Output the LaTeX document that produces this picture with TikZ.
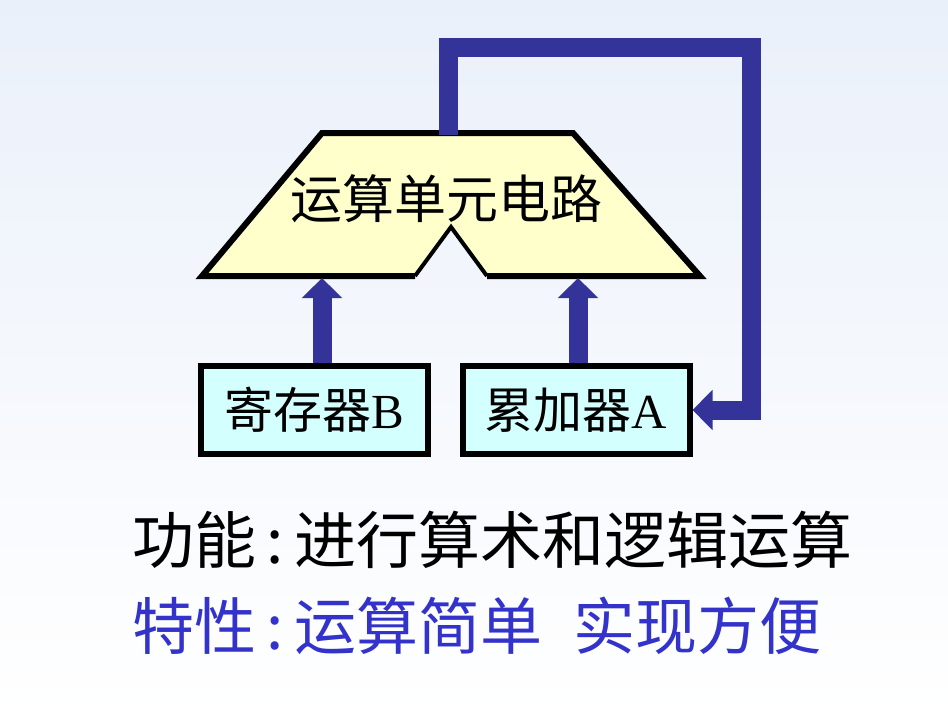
\documentclass[tikz,border=0pt]{standalone}
\usepackage{fontspec}
\setmainfont{Liberation Serif}
\newfontfamily\cjk{Noto Sans CJK SC}
\usetikzlibrary{arrows.meta}
\definecolor{loopblue}{RGB}{51,51,153}
\definecolor{trapfill}{RGB}{255,255,204}
\definecolor{boxfill}{RGB}{212,255,255}
\definecolor{textblue}{RGB}{51,51,204}
\definecolor{bgtop}{RGB}{234,240,250}
\begin{document}
\begin{tikzpicture}[x=1pt,y=-1pt,
  regbox/.style={draw=black, line width=6pt, fill=boxfill, minimum width=227pt,
    minimum height=88pt, inner sep=0pt, font=\cjk\fontsize{49}{56}\selectfont},
  bus/.style={draw=loopblue, line width=19pt, line join=miter,
    -{Triangle[width=39pt,length=20pt]}},
  trapline/.style={draw=black, line width=6pt, line join=miter},
  notchline/.style={draw=black, line width=4pt, line join=miter},
  bigtext/.style={anchor=west, inner sep=0pt, font=\cjk\fontsize{62}{72}\selectfont}
]
\useasboundingbox (0,0) rectangle (948,712);
\shade[top color=bgtop, bottom color=white] (0,0) rectangle (948,712);

% trapezoid (ALU)
\coordinate (tl) at (322,133);
\coordinate (tr) at (573,133);
\coordinate (br) at (700,276);
\coordinate (nr) at (487,276);
\coordinate (apex) at (451,227);
\coordinate (nl) at (415,276);
\coordinate (bl) at (202,276);
\fill[trapfill] (tl) -- (tr) -- (br) -- (nr) -- (apex) -- (nl) -- (bl) -- cycle;
\draw[trapline] (nl) -- (bl) -- (tl) -- (tr) -- (br) -- (nr);
\draw[notchline] (nr) -- (apex) -- (nl);
\node[font=\cjk\fontsize{52}{60}\selectfont, inner sep=0pt] (alu) at (446,199) {运算单元电路};

% registers
\node[regbox] (B) at (314.5,410) {寄存器{\rmfamily B}};
\node[regbox] (A) at (576,410) {累加器{\rmfamily A}};

% connection points
\coordinate (inB) at (322,278);
\coordinate (inA) at (578,278);
\coordinate (outTop) at (448,135);
\coordinate (c1) at (448,47);
\coordinate (c2) at (751,47);
\coordinate (c3) at (751,410);

\draw[bus] (B.north -| inB) -- (inB);
\draw[bus] (A.north -| inA) -- (inA);
\draw[bus] (outTop) -- (c1) -- (c2) -- (c3) -- (A.east);

% description
\node[bigtext] (func) at (132,540) {功能\,:\,进行算术和逻辑运算};
\node[bigtext, text=textblue] (feat) at (132,626) {特性\,:\,运算简单\hspace{0.5em}实现方便};
\end{tikzpicture}
\end{document}
